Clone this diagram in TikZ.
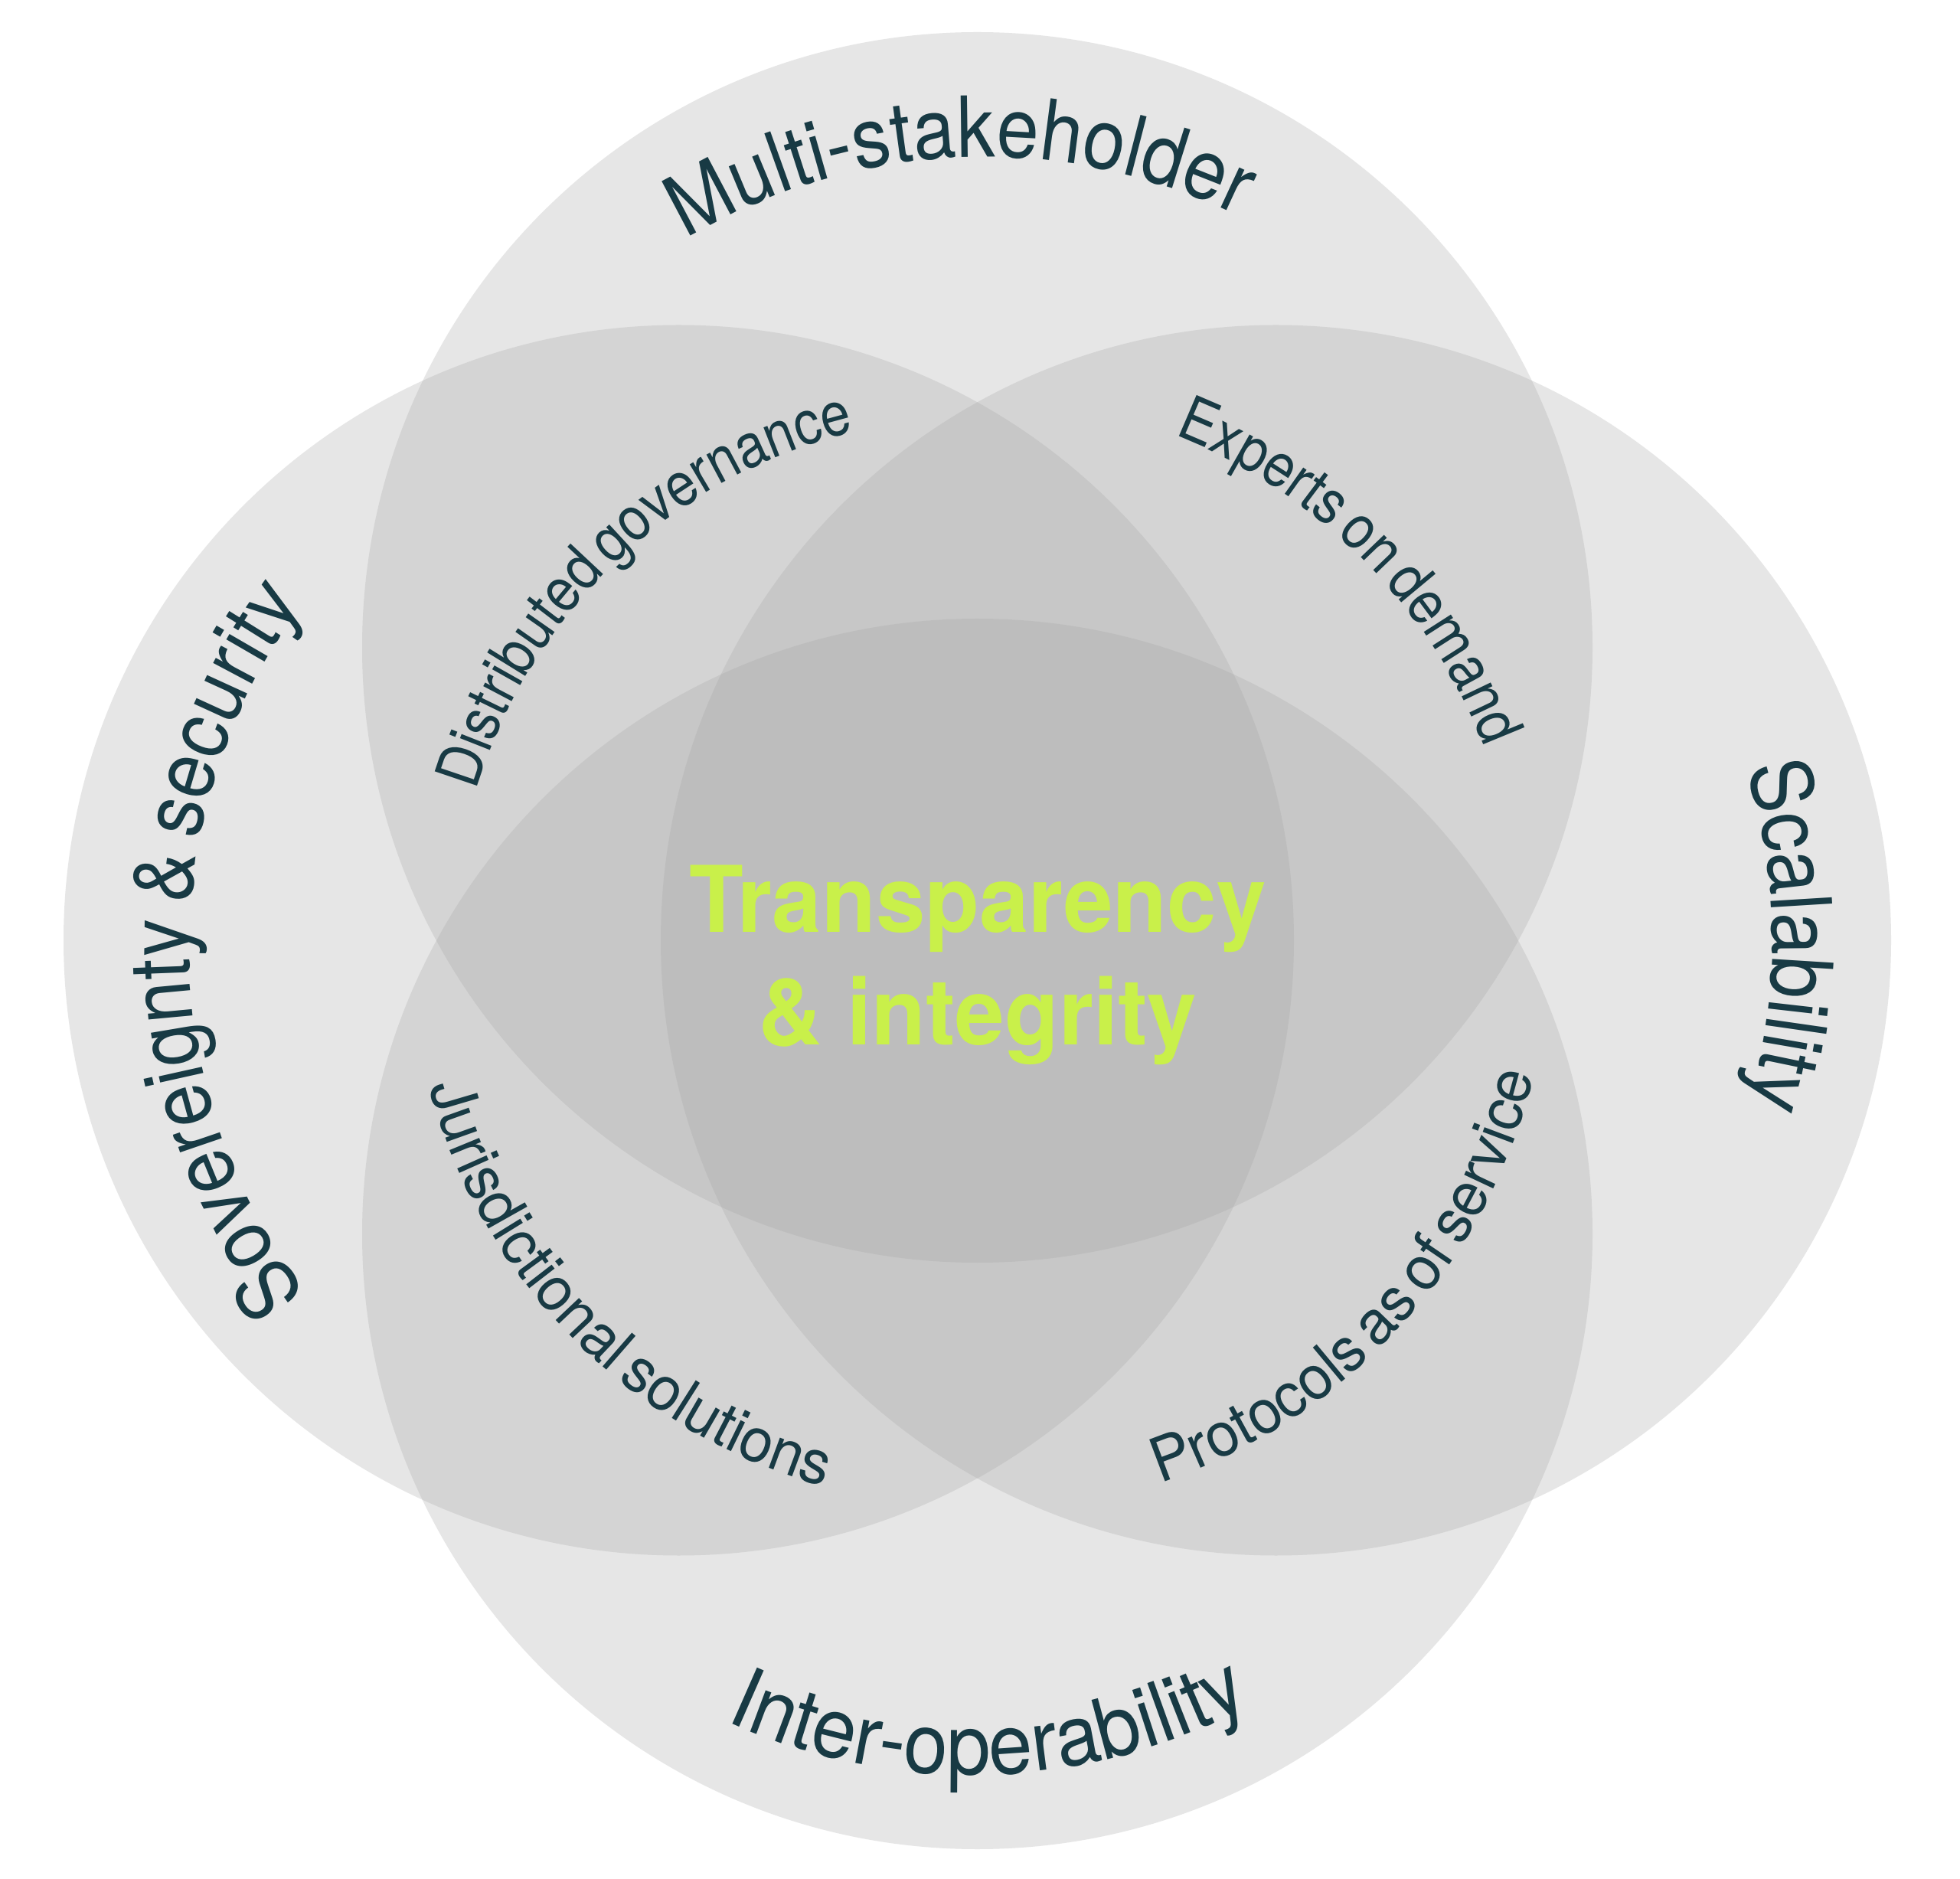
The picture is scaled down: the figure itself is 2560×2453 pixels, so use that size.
\documentclass[tikz,border=0pt]{standalone}
\usepackage{fontspec}
\usetikzlibrary{decorations.text}
\newfontfamily\fOut[FakeStretch=0.9,WordSpace=0.7]{TeX Gyre Heros}
\newfontfamily\fOutIn[FakeStretch=0.94,WordSpace=0.7]{TeX Gyre Heros}
\newfontfamily\fInOut[FakeStretch=0.875,WordSpace=0.6]{TeX Gyre Heros}
\newfontfamily\fInIn[FakeStretch=0.97,WordSpace=0.6]{TeX Gyre Heros}
\newfontfamily\fCtr[FakeStretch=0.965]{TeX Gyre Heros}
\definecolor{txt}{RGB}{24,58,68}
\definecolor{lime}{RGB}{201,240,74}
\definecolor{circgray}{RGB}{166,166,166}
\newcommand\sOut{\fOut\fontsize{31.3pt}{36pt}\selectfont}
\newcommand\sOutIn{\fOutIn\fontsize{31.3pt}{36pt}\selectfont}
\newcommand\sInOut{\fInOut\fontsize{22.76pt}{27pt}\selectfont}
\newcommand\sInIn{\fInIn\fontsize{22.76pt}{27pt}\selectfont}
\tikzset{
  circ/.style={fill=circgray, fill opacity=0.28},
  lbl/.style={decorate, decoration={text along path, text align=center, text color=txt, text={#1}}},
  ctr/.style={anchor=base, inner sep=0pt, text=lime, font=\fCtr\bfseries\fontsize{34.14pt}{41pt}\selectfont}
}
\begin{document}
\begin{tikzpicture}[x=0.01cm, y=0.01cm]
\useasboundingbox (0,0) rectangle (2560,2453);
\fill[white] (0,0) rectangle (2560,2453);
% circles
\fill[circ] (1276.5,1607.5) circle[radius=803.5];
\fill[circ] (886.5,1225) circle[radius=803.5];
\fill[circ] (1666.5,1225) circle[radius=803.5];
\fill[circ] (1276.5,841.5) circle[radius=803.5];
% outer labels
\path[lbl={|\sOut|Multi-stakeholder}] (1285,1490) ++(142.4:758) arc[start angle=142.4, end angle=42.4, radius=758];
\path[lbl={|\sOut|Sovereignty {\&} security}] (995,1217) ++(230.3:748) arc[start angle=230.3, end angle=130.3, radius=748];
\path[lbl={|\sOut|Scalability}] (1560,1225) ++(50.4:755) arc[start angle=50.4, end angle=-49.6, radius=755];
\path[lbl={|\sOutIn|Inter-operability}] (1270,905) ++(221.75:770) arc[start angle=221.75, end angle=321.75, radius=770];
% inner labels
\path[lbl={|\sInOut|Distributed governance}] (1276.5,1225) ++(178.5:683) arc[start angle=178.5, end angle=88.5, radius=683];
\path[lbl={|\sInOut|Experts on demand}] (1276.5,1225) ++(89.75:708) arc[start angle=89.75, end angle=-0.25, radius=708];
\path[lbl={|\sInIn|Jurisdictional solutions}] (1276.5,1225) ++(179.65:741) arc[start angle=179.65, end angle=269.65, radius=741];
\path[lbl={|\sInIn|Protocols as of service}] (1276.5,1225) ++(-87.5:748) arc[start angle=-87.5, end angle=2.5, radius=748];
% centre
\node[ctr] (t1) at (1277,1235) {Transparency};
\node[ctr] (t2) at (1277,1088) {\& integrity};
\end{tikzpicture}
\end{document}
